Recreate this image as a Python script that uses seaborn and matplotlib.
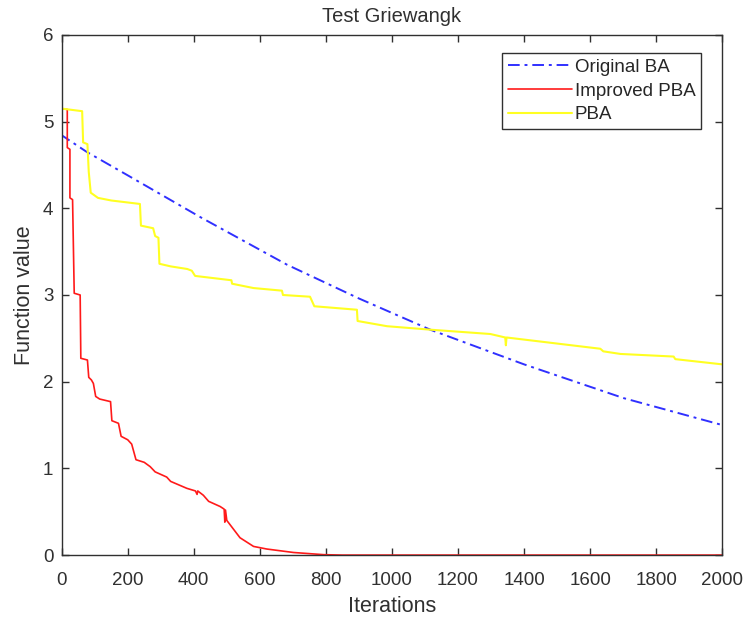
import pandas as pd
import seaborn as sns
import matplotlib.pyplot as plt

# Original BA (dash-dot blue)
ba_x = [0, 1, 76, 200, 419, 682, 900, 1116, 1400, 1702, 2000]
ba_y = [5.15, 4.84, 4.65, 4.38, 3.90, 3.35, 2.96, 2.60, 2.20, 1.81, 1.50]

# Improved PBA (red)
ipba_x = [0, 17, 17, 25, 25, 33, 38, 56, 58, 78, 82, 90, 96, 103, 115, 148, 152,
          172, 180, 200, 212, 225, 250, 268, 283, 318, 330, 379, 405, 410, 412,
          429, 445, 480, 492, 494, 496, 500, 520, 540, 581, 621, 702, 793, 850, 2000]
ipba_y = [5.15, 5.14, 4.70, 4.68, 4.12, 4.10, 3.02, 3.00, 2.27, 2.25, 2.05, 2.02,
          1.98, 1.83, 1.80, 1.77, 1.55, 1.52, 1.37, 1.33, 1.28, 1.10, 1.07, 1.02,
          0.96, 0.90, 0.85, 0.77, 0.74, 0.70, 0.74, 0.69, 0.62, 0.56, 0.53, 0.38,
          0.52, 0.40, 0.30, 0.20, 0.10, 0.07, 0.03, 0.005, 0.0, 0.0]

# PBA (yellow)
pba_x = [0, 62, 65, 78, 82, 88, 110, 150, 237, 240, 277, 283, 293, 296, 330, 380,
         394, 404, 514, 516, 581, 667, 670, 752, 765, 894, 896, 985, 1116, 1298,
         1343, 1345, 1347, 1631, 1640, 1692, 1853, 1858, 2000]
pba_y = [5.15, 5.12, 4.76, 4.74, 4.42, 4.18, 4.12, 4.09, 4.05, 3.80, 3.77, 3.68,
         3.66, 3.36, 3.33, 3.30, 3.28, 3.22, 3.17, 3.13, 3.08, 3.05, 3.00, 2.98,
         2.87, 2.83, 2.70, 2.64, 2.60, 2.55, 2.51, 2.42, 2.51, 2.38, 2.35, 2.32,
         2.29, 2.26, 2.20]

sns.set_style("ticks")
plt.rcParams['font.family'] = ['Liberation Sans', 'DejaVu Sans']
dark = '#303030'

fig = plt.figure(figsize=(7.43, 6.23), dpi=100)
ax = fig.add_axes([0.083, 0.109, 0.889, 0.835])

sns.lineplot(x=ba_x, y=ba_y, ax=ax, color='#3030ff', lw=1.4, estimator=None,
             sort=False, label='Original BA', dashes=False)
ax.lines[-1].set_dashes((6, 2.5, 1.5, 2.5))
sns.lineplot(x=ipba_x, y=ipba_y, ax=ax, color='#ff1a1a', lw=1.2, estimator=None,
             sort=False, label='Improved PBA')
sns.lineplot(x=pba_x, y=pba_y, ax=ax, color='#ffff22', lw=1.5, estimator=None,
             sort=False, label='PBA')

ax.set_xlim(0, 2000)
ax.set_ylim(0, 6)
ax.set_xticks(range(0, 2001, 200))
ax.set_yticks(range(0, 7))
ax.tick_params(direction='in', length=5, width=1, colors=dark, labelsize=13.5,
               top=True, right=True, labeltop=False, labelright=False)
ax.tick_params(axis='x', pad=12)
ax.tick_params(axis='y', pad=6)
for s in ax.spines.values():
    s.set_visible(True)
    s.set_color(dark)
    s.set_linewidth(1)

ax.set_title('Test Griewangk', fontsize=14.5, color=dark, pad=9)
ax.set_xlabel('Iterations', fontsize=15.5, color=dark, labelpad=5)
ax.set_ylabel('Function value', fontsize=15.5, color=dark, labelpad=6)

leg = ax.legend(loc='upper right', bbox_to_anchor=(0.968, 0.965), fontsize=13.5,
                handlelength=3.4, handletextpad=0.15, borderpad=0.3,
                labelspacing=0.35, borderaxespad=0, fancybox=False, framealpha=1)
leg.get_frame().set_edgecolor(dark)
leg.get_frame().set_linewidth(1)

fig.savefig('out.png', dpi=100)
